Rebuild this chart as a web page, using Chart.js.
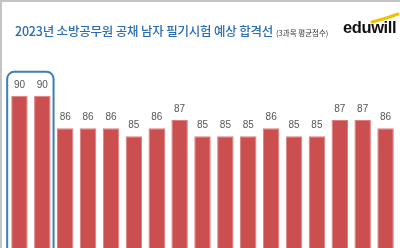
<!DOCTYPE html>
<html><head><meta charset="utf-8">
<script src="https://cdn.jsdelivr.net/npm/chart.js@4/dist/chart.umd.min.js"></script>
<style>
html,body{margin:0;padding:0;background:#fff;}
#wrap{position:relative;width:400px;height:248px;overflow:hidden;background:#fff;border-top:2px solid #c4c4c4;border-left:2px solid #c4c4c4;box-sizing:border-box;}
#title{position:absolute;left:13px;top:19px;font-family:"Noto Sans CJK KR","Noto Sans",sans-serif;font-size:12.5px;font-weight:500;color:#2b6db3;white-space:nowrap;letter-spacing:-0.2px;}
#title small{font-size:7.5px;color:#333;font-weight:400;margin-left:3px;letter-spacing:0;}
#logo{position:absolute;left:341px;top:16px;font-family:"Liberation Sans",Arial,sans-serif;font-size:16.5px;font-weight:bold;color:#111;letter-spacing:-0.4px;}
#swoosh{position:absolute;left:368px;top:10px;}
#c{position:absolute;left:0;top:0;}
</style></head><body>
<div id="wrap">
<canvas id="c" width="398" height="246"></canvas>
<div id="title">2023년 소방공무원 공채 남자 필기시험 예상 합격선<small>(3과목 평균점수)</small></div>
<svg id="swoosh" width="30" height="12"><path d="M2 10 Q15 7 28 2" stroke="#f2c200" stroke-width="3" fill="none" stroke-linecap="round"/></svg>
<div id="logo">eduwill</div>
</div>
<script>
const categories = ['서울','부산','대구','인천','광주','대전','울산','세종','경기','강원','충북','충남','전북','전남','경북','경남','제주'];
const scores = [90,90,86,86,86,85,86,87,85,85,85,86,85,85,87,87,86];
const highlighted = [0,1];

const labelPlugin = {
  id:'valLabels',
  afterDatasetsDraw(chart){
    const ctx = chart.ctx;
    const meta = chart.getDatasetMeta(0);
    ctx.save();
    ctx.font = '10px "Liberation Sans", Arial, sans-serif';
    ctx.fillStyle = '#555';
    ctx.textAlign = 'center';
    ctx.textBaseline = 'bottom';
    meta.data.forEach((bar,i)=>{
      ctx.fillText(String(scores[i]), bar.x, bar.y - 6);
    });
    ctx.restore();
  }
};
const boxPlugin = {
  id:'hlBox',
  afterDatasetsDraw(chart){
    const ctx = chart.ctx;
    const meta = chart.getDatasetMeta(0);
    const a = meta.data[highlighted[0]], b = meta.data[highlighted[highlighted.length-1]];
    const left = a.x - a.width/2 - 4, right = b.x + b.width/2 + 3;
    const top = Math.min(a.y,b.y) - 24;
    const bottom = chart.height + 20;
    const r = 7;
    ctx.save();
    ctx.strokeStyle = '#3d7fb4';
    ctx.lineWidth = 2;
    ctx.beginPath();
    ctx.moveTo(left, bottom);
    ctx.lineTo(left, top + r);
    ctx.arcTo(left, top, left + r, top, r);
    ctx.lineTo(right - r, top);
    ctx.arcTo(right, top, right, top + r, r);
    ctx.lineTo(right, bottom);
    ctx.stroke();
    ctx.restore();
  }
};

new Chart(document.getElementById('c'), {
  type:'bar',
  data:{labels:categories, datasets:[{data:scores, backgroundColor:'#cc4f4f', borderColor:'#dd7f7f', borderWidth:{top:1,left:1,right:1,bottom:0}, barPercentage:0.72, categoryPercentage:1}]},
  options:{
    responsive:false, animation:false,
    layout:{padding:{left:6,right:3,top:38,bottom:0}},
    plugins:{legend:{display:false}, tooltip:{enabled:false}},
    scales:{
      x:{display:false},
      y:{display:false, min:71.2, max:96.9}
    }
  },
  plugins:[labelPlugin, boxPlugin]
});
</script>
</body></html>
